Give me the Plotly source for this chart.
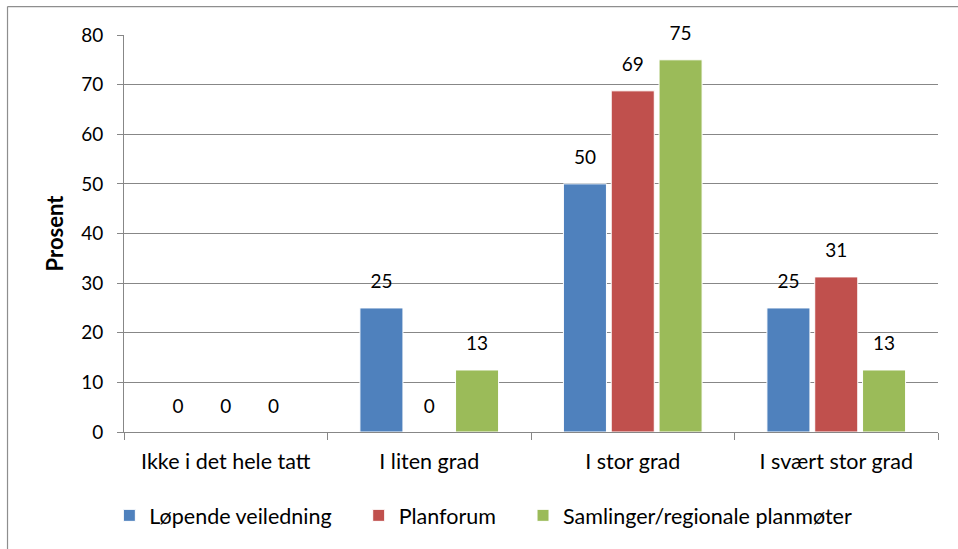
import plotly.graph_objects as go

categories = ["Ikke i det hele tatt", "I liten grad", "I stor grad", "I svært stor grad"]
series_names = ["Løpende veiledning", "Planforum", "Samlinger/regionale planmøter"]
lopende = [0, 25, 50, 25]
planforum = [0, 0, 68.75, 31.25]
samlinger = [0, 12.5, 75, 12.5]
colors = ["#4F81BD", "#C0504D", "#9BBB59"]
y_ticks = [0, 10, 20, 30, 40, 50, 60, 70, 80]

FONT = "Lato"
FS_TXT = 21.5
FS_NUM = 19
BARGAP = 0.295
PAD = "\u00a0" * 4  # extra spacing between legend entries

fig = go.Figure()
for i, (name, vals, col) in enumerate(zip(series_names, [lopende, planforum, samlinger], colors)):
    fig.add_trace(go.Bar(
        x=categories, y=vals, name=name + (PAD if i < len(series_names) - 1 else ""),
        marker=dict(color=col, line=dict(color="white", width=1)),
        hoverinfo="skip",
    ))
# data labels as grouped text traces
for name, vals in zip(series_names, [lopende, planforum, samlinger]):
    fig.add_trace(go.Scatter(
        x=categories, y=vals, mode="markers+text", showlegend=False,
        text=[f"{round(v + 1e-9):d}" for v in vals],
        textposition="top center",
        marker=dict(size=22, opacity=0, color="white"),
        textfont=dict(family=FONT, size=FS_NUM, color="#000000"),
        cliponaxis=False, hoverinfo="skip",
    ))

fig.update_layout(
    width=958, height=549,
    margin=dict(l=124, r=20, t=35, b=117),
    paper_bgcolor="white", plot_bgcolor="white",
    barmode="group", bargap=BARGAP, bargroupgap=0.1,
    scattermode="group", scattergap=BARGAP,
    font=dict(family=FONT, size=FS_TXT, color="#000000"),
    showlegend=True,
    legend=dict(orientation="h", x=-0.018, xanchor="left", y=-0.21, yanchor="middle",
                font=dict(family=FONT, size=FS_TXT), itemwidth=30, traceorder="normal"),
)
fig.update_xaxes(
    type="category", tickson="boundaries", ticks="outside", ticklen=7, tickcolor="#878787",
    showline=True, linecolor="#878787", linewidth=1, showgrid=False,
    ticklabelstandoff=10,
    tickfont=dict(family=FONT, size=FS_TXT, color="#000000"),
)
fig.update_yaxes(
    range=[0, 80], tickvals=y_ticks, ticks="outside", ticklen=6, tickcolor="#878787",
    showline=True, linecolor="#878787", linewidth=1,
    showgrid=True, gridcolor="#878787", gridwidth=1, zeroline=False,
    ticklabelstandoff=10,
    tickfont=dict(family=FONT, size=FS_NUM, color="#000000"),
    title=dict(text="<b>Prosent</b>", font=dict(family=FONT, size=22, color="#000000"), standoff=11),
)
# outer chart-area border (left and top edges visible)
fig.add_shape(type="line", xref="paper", yref="paper", x0=-0.1431, x1=-0.1431, y0=1.0717, y1=-0.35,
              line=dict(color="#8E8E8E", width=1.2))
fig.add_shape(type="line", xref="paper", yref="paper", x0=-0.1431, x1=1.05, y0=1.0717, y1=1.0717,
              line=dict(color="#8E8E8E", width=1.2))
fig.write_html("out.html", config={"displayModeBar": False},
               post_script="document.body.style.margin='0';")
